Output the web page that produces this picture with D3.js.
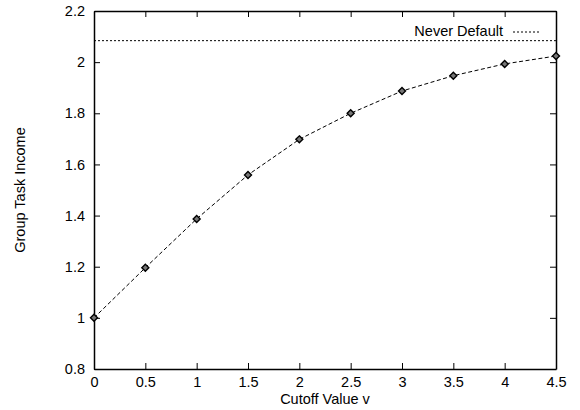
<!DOCTYPE html>
<html>
<head>
<meta charset="utf-8">
<script src="https://cdn.jsdelivr.net/npm/d3@7"></script>
<style>
  body { margin: 0; background: #fff; }
  text { font-family: "Liberation Sans", Arial, sans-serif; fill: #000; }
</style>
</head>
<body>
<script>
// values
var cutoff = [0, 0.5, 1, 1.5, 2, 2.5, 3, 3.5, 4, 4.5];
var income = [1.0, 1.196, 1.387, 1.559, 1.698, 1.800, 1.887, 1.947, 1.993, 2.024];
var neverDefault = 2.084;
var xTicks = [0, 0.5, 1, 1.5, 2, 2.5, 3, 3.5, 4, 4.5];
var yTicks = [0.8, 1, 1.2, 1.4, 1.6, 1.8, 2, 2.2];

var margin = { top: 11, right: 24, bottom: 41, left: 94 },
    width = 580 - margin.left - margin.right,
    height = 410 - margin.top - margin.bottom;

var x = d3.scaleLinear().domain([0, 4.5]).range([0, width]);
var y = d3.scaleLinear().domain([0.8, 2.2]).range([height, 0]);

var svg = d3.select("body").append("svg")
    .attr("width", 580)
    .attr("height", 410)
    .append("g")
    .attr("transform", "translate(" + margin.left + "," + margin.top + ")");

var fmt = function (d) { return String(d); };

// axes with inward ticks, mirrored on top and right
var xb = svg.append("g")
    .attr("transform", "translate(0," + height + ")")
    .call(d3.axisBottom(x).tickValues(xTicks).tickFormat(fmt).tickSizeInner(-6).tickSizeOuter(0).tickPadding(8));
var xt = svg.append("g")
    .call(d3.axisTop(x).tickValues(xTicks).tickFormat("").tickSizeInner(-6).tickSizeOuter(0));
var yl = svg.append("g")
    .call(d3.axisLeft(y).tickValues(yTicks).tickFormat(fmt).tickSizeInner(-6).tickSizeOuter(0).tickPadding(9));
var yr = svg.append("g")
    .attr("transform", "translate(" + width + ",0)")
    .call(d3.axisRight(y).tickValues(yTicks).tickFormat("").tickSizeInner(-6).tickSizeOuter(0));

[xb, xt, yl, yr].forEach(function (g) {
    g.select(".domain").attr("stroke", "#000").attr("stroke-width", 1.5);
    g.selectAll(".tick line").attr("stroke", "#000").attr("stroke-width", 1);
    g.selectAll(".tick text").attr("font-size", 14.5).attr("font-family", "Liberation Sans, Arial, sans-serif").attr("fill", "#000");
});

// never default line
svg.append("line")
    .attr("x1", 0).attr("x2", width)
    .attr("y1", y(neverDefault)).attr("y2", y(neverDefault))
    .attr("stroke", "#000").attr("stroke-width", 1)
    .attr("stroke-dasharray", "2,2");

// legend
svg.append("text")
    .attr("x", 409).attr("y", 25)
    .attr("text-anchor", "end")
    .attr("font-size", 14.5)
    .text("Never Default");
svg.append("line")
    .attr("x1", 419).attr("x2", 446)
    .attr("y1", 21).attr("y2", 21)
    .attr("stroke", "#000").attr("stroke-width", 1)
    .attr("stroke-dasharray", "2,2");

// curve
var data = cutoff.map(function (c, i) { return { v: c, inc: income[i] }; });
var line = d3.line()
    .x(function (d) { return x(d.v); })
    .y(function (d) { return y(d.inc); });

svg.append("path")
    .datum(data)
    .attr("fill", "none")
    .attr("stroke", "#000")
    .attr("stroke-width", 1)
    .attr("stroke-dasharray", "4,2.5")
    .attr("d", line);

svg.selectAll(".pt")
    .data(data)
    .enter().append("path")
    .attr("class", "pt")
    .attr("transform", function (d) { return "translate(" + x(d.v) + "," + y(d.inc) + ")"; })
    .attr("d", "M0,-3.5L3.5,0L0,3.5L-3.5,0Z")
    .attr("fill", "#777")
    .attr("stroke", "#000")
    .attr("stroke-width", 1.4);

// axis titles
svg.append("text")
    .attr("x", width / 2).attr("y", height + 35)
    .attr("text-anchor", "middle")
    .attr("font-size", 14.5)
    .text("Cutoff Value v");
svg.append("text")
    .attr("transform", "translate(" + (-69) + "," + (height / 2) + ") rotate(-90)")
    .attr("text-anchor", "middle")
    .attr("font-size", 14.5)
    .text("Group Task Income");
</script>
</body>
</html>
